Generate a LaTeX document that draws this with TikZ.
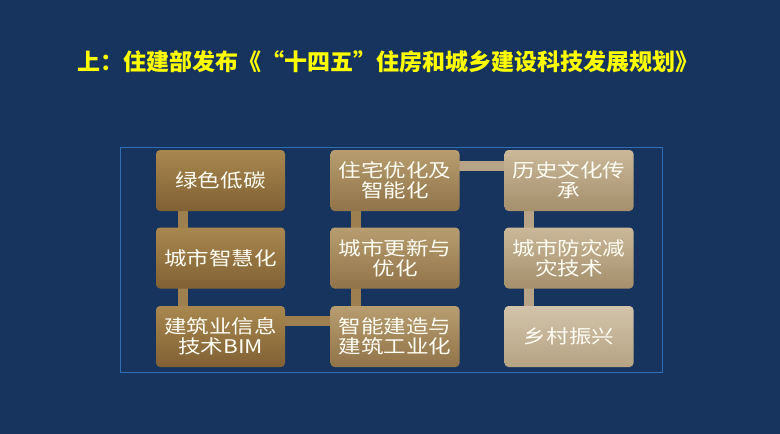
\documentclass[tikz,border=0pt]{standalone}
\usepackage{fontspec}
\newfontfamily\cjk{Noto Sans CJK SC}
\newfontfamily\boxfont[FakeStretch=1.2]{Noto Sans CJK SC}
\pgfdeclarelayer{bgl}
\pgfdeclarelayer{conn}
\pgfsetlayers{bgl,conn,main}
\definecolor{bgnavy}{HTML}{17345F}
\definecolor{framebl}{HTML}{2F6DB5}
\definecolor{titley}{HTML}{FFFF00}
\definecolor{cAt}{HTML}{A8874F}\definecolor{cAb}{HTML}{816134}
\definecolor{cBt}{HTML}{B79D70}\definecolor{cBb}{HTML}{917449}
\definecolor{cCt}{HTML}{CAB899}\definecolor{cCb}{HTML}{A58F6C}
\definecolor{cDt}{HTML}{D2C3AA}\definecolor{cDb}{HTML}{B6A383}
\definecolor{connA}{HTML}{9E8050}
\definecolor{connC}{HTML}{B7A486}
\begin{document}
\begin{tikzpicture}[x=1pt,y=-1pt,
  gbox/.style={rounded corners=4pt, minimum width=129pt, minimum height=61pt,
    inner sep=0pt, align=center, text=white!96!yellow,
    font=\boxfont\fontsize{18.8}{20}\selectfont},
  colA/.style={gbox, top color=cAt, bottom color=cAb},
  colB/.style={gbox, top color=cBt, bottom color=cBb},
  colC/.style={gbox, top color=cCt, bottom color=cCb},
  colD/.style={gbox, top color=cDt, bottom color=cDb},
  bar/.style={line width=10pt, draw=connA},
  barc/.style={line width=10pt, draw=connC}]
\begin{pgfonlayer}{bgl}
\fill[bgnavy] (0,0) rectangle (780,434);
\end{pgfonlayer}
\useasboundingbox (0,0) rectangle (780,434);
\node[anchor=west, text=titley, inner sep=0pt,
  font=\cjk\bfseries\fontsize{23}{26}\selectfont] (title) at (77,62)
  {上：住建部发布《“十四五”住房和城乡建设科技发展规划》};
\node[draw=framebl, line width=0.9pt, minimum width=542pt, minimum height=225pt,
  inner sep=0pt] (frame) at (391,259.5) {};
\node[colA] (b11) at (220.5,180.5) {绿色低碳};
\node[colA] (b21) at (220.5,258) {城市智慧化};
\node[colA] (b31) at (220.5,336.5) {建筑业信息\\技术BIM};
\node[colB] (b12) at (395,180.5) {住宅优化及\\智能化};
\node[colB] (b22) at (395,258) {城市更新与\\优化};
\node[colB] (b32) at (395,336.5) {智能建造与\\建筑工业化};
\node[colC] (b13) at (569,180.5) {历史文化传\\承};
\node[colC] (b23) at (569,258) {城市防灾减\\灾技术};
\node[colD] (b33) at (569,336.5) {乡村振兴};
\begin{pgfonlayer}{conn}
\draw[bar] ([xshift=-38pt]b11.center) -- ([xshift=-38pt]b31.center);
\draw[bar] ([xshift=-39pt]b12.center) -- ([xshift=-39pt]b32.center);
\draw[barc] ([xshift=-40pt]b13.center) -- ([xshift=-40pt]b33.center);
\draw[bar] ([yshift=16pt]b31.center) -- ([yshift=16pt]b32.center);
\draw[barc] ([yshift=15pt]b12.center) -- ([yshift=15pt]b13.center);
\end{pgfonlayer}
\end{tikzpicture}
\end{document}
